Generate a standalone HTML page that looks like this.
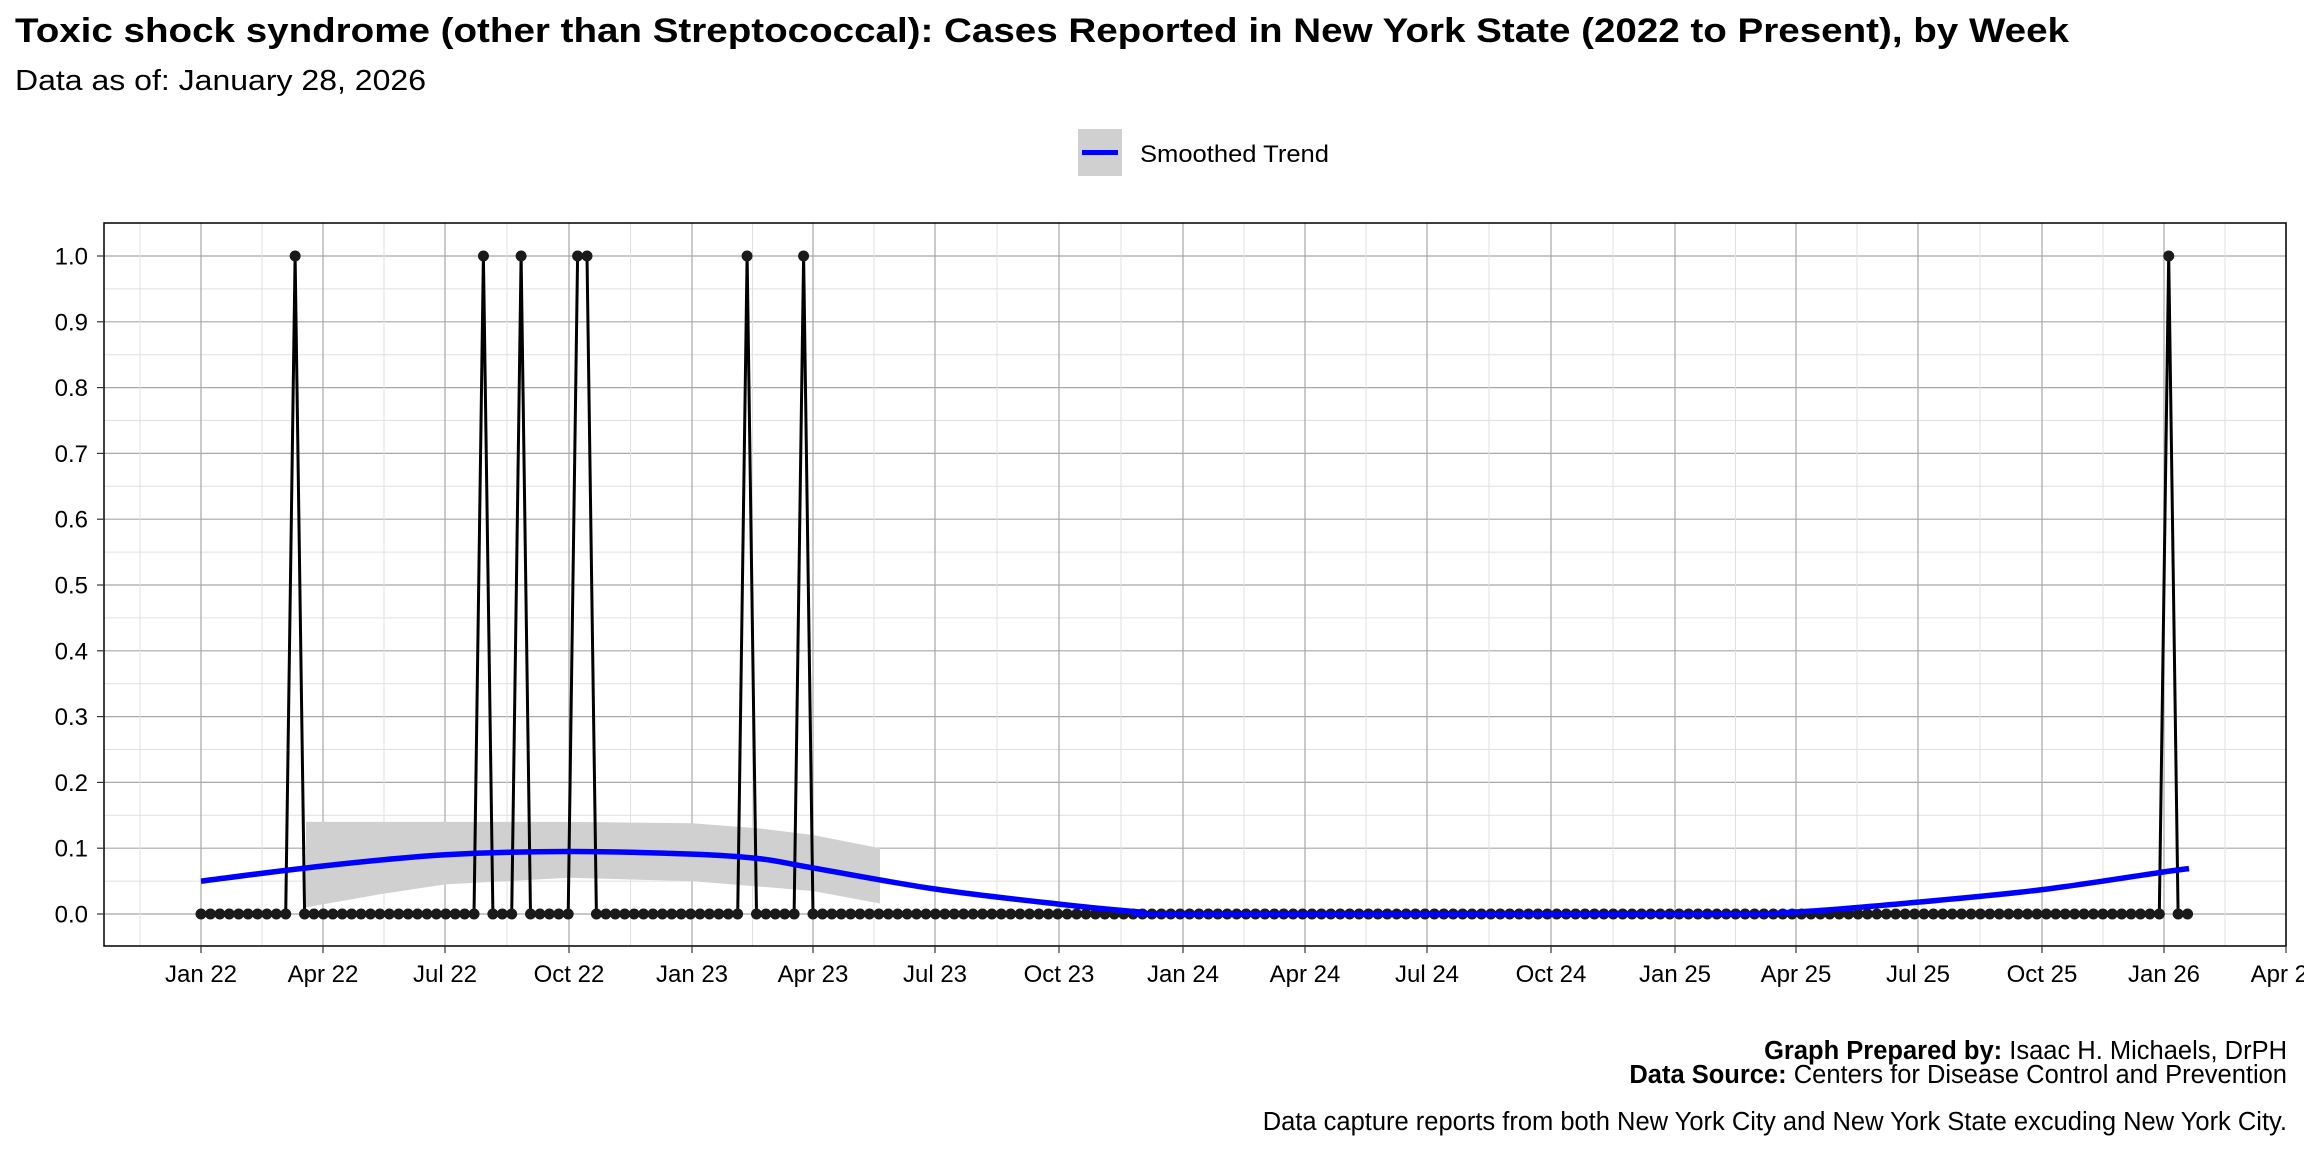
<!DOCTYPE html>
<html><head><meta charset="utf-8"><style>
html,body{margin:0;padding:0;background:#fff;}
svg{display:block;font-family:"Liberation Sans",Arial,sans-serif;}
</style></head><body>
<svg id="s" width="2304" height="1152" viewBox="0 0 2304 1152" xmlns="http://www.w3.org/2000/svg">
<rect width="2304" height="1152" fill="#fff"/>
<text x="15" y="42" font-size="34" font-weight="bold" textLength="2054" lengthAdjust="spacingAndGlyphs">Toxic shock syndrome (other than Streptococcal): Cases Reported in New York State (2022 to Present), by Week</text>
<text x="15" y="90" font-size="29" textLength="411" lengthAdjust="spacingAndGlyphs">Data as of: January 28, 2026</text>
<rect x="1078" y="129" width="44" height="47" fill="#d0d0d0"/>
<line x1="1082" y1="152.5" x2="1118" y2="152.5" stroke="#0000ff" stroke-width="5"/>
<text x="1140" y="162" font-size="24" textLength="189" lengthAdjust="spacingAndGlyphs">Smoothed Trend</text>
<g id="grid"></g>
<g id="data"></g>
<rect x="104" y="223" width="2182" height="723" fill="none" stroke="#000" stroke-width="1.5"/>
<g id="axes" font-size="24"></g>
<text x="2287" y="1059" font-size="25.5" text-anchor="end"><tspan font-weight="bold">Graph Prepared by:</tspan> Isaac H. Michaels, DrPH</text>
<text x="2287" y="1083" font-size="25.5" text-anchor="end"><tspan font-weight="bold">Data Source:</tspan> Centers for Disease Control and Prevention</text>
<text x="2287" y="1130" font-size="25.5" text-anchor="end">Data capture reports from both New York City and New York State excuding New York City.</text>
</svg>
<script>
(function(){
var NS="http://www.w3.org/2000/svg";
function el(p,t,a,txt){var e=document.createElementNS(NS,t);for(var k in a)e.setAttribute(k,a[k]);if(txt!=null)e.textContent=txt;p.appendChild(e);return e;}
var L=104,R=2286,T=223,B=946;
function Y(v){return 914-658*v;}
var g=document.getElementById('grid'),d=document.getElementById('data'),ax=document.getElementById('axes');
for(var i=-1;i<=21;i++){var v=i*0.05;var y=Y(v);if(y<T||y>B)continue;
 var major=(i%2===0);
 el(g,'line',{x1:L,x2:R,y1:y,y2:y,stroke:major?'#a8a8a8':'#e0e0e0','stroke-width':major?1.2:1});
 if(major){el(ax,'text',{x:88,y:y+8.5,'text-anchor':'end'},(v).toFixed(1));el(ax,'line',{x1:97,x2:104,y1:y,y2:y,stroke:'#333','stroke-width':1.2});}
}
var xs=[201,323,445,569,692,813,935,1059,1183,1305,1427,1551,1675,1796,1918,2042,2164,2286];
var labs=["Jan 22","Apr 22","Jul 22","Oct 22","Jan 23","Apr 23","Jul 23","Oct 23","Jan 24","Apr 24","Jul 24","Oct 24","Jan 25","Apr 25","Jul 25","Oct 25","Jan 26","Apr 26"];
var minors=[140];for(var i=0;i<xs.length-1;i++)minors.push((xs[i]+xs[i+1])/2);
minors.forEach(function(x){el(g,'line',{x1:x,x2:x,y1:T,y2:B,stroke:'#e0e0e0','stroke-width':1});});
xs.forEach(function(x,i){el(g,'line',{x1:x,x2:x,y1:T,y2:B,stroke:'#a8a8a8','stroke-width':1.2});
 el(ax,'line',{x1:x,x2:x,y1:B,y2:B+7,stroke:'#333','stroke-width':1.2});
 el(ax,'text',{x:x,y:982,'text-anchor':'middle'},labs[i]);});
var top=[[306,0.14],[445,0.14],[569,0.14],[692,0.138],[760,0.13],[813,0.12],[880,0.10]];
var bot=[[880,0.016],[813,0.035],[692,0.05],[569,0.055],[445,0.045],[380,0.03],[306,0.01]];
var pts=top.concat(bot).map(function(p){return p[0]+','+Y(p[1]);}).join(' ');
el(d,'polygon',{points:pts,fill:'#d0d0d0'});
var sm=[[201,0.05],[323,0.073],[445,0.09],[569,0.095],[692,0.091],[760,0.084],[813,0.07],[935,0.038],[1059,0.015],[1140,0.003],[1183,0.0],[1700,0.0],[1796,0.003],[1918,0.018],[2042,0.037],[2164,0.064],[2189,0.069]];
// catmull-rom
var pd='M'+sm[0][0]+','+Y(sm[0][1]);
for(var i=0;i<sm.length-1;i++){var p0=sm[Math.max(0,i-1)],p1=sm[i],p2=sm[i+1],p3=sm[Math.min(sm.length-1,i+2)];
 var c1x=p1[0]+(p2[0]-p0[0])/6,c1y=Y(p1[1])+(Y(p2[1])-Y(p0[1]))/6;
 var c2x=p2[0]-(p3[0]-p1[0])/6,c2y=Y(p2[1])-(Y(p3[1])-Y(p1[1]))/6;
 if(p1[1]===0&&p2[1]===0){c1y=Y(0);c2y=Y(0);}
 pd+=' C'+c1x+','+Math.min(c1y,Y(0))+' '+c2x+','+Math.min(c2y,Y(0))+' '+p2[0]+','+Y(p2[1]);}
var peaks={10:1,30:1,34:1,40:1,41:1,58:1,64:1,209:1};
var line='';var step=9.415;
for(var w=0;w<=211;w++){var x=201+w*step,v=peaks[w]||0;line+=(w?' L':'M')+x.toFixed(1)+','+Y(v);}
el(d,'path',{d:line,fill:'none',stroke:'#000','stroke-width':3,'stroke-linejoin':'round'});
for(var w=0;w<=211;w++){var x=201+w*step,v=peaks[w]||0;el(d,'circle',{cx:x,cy:Y(v),r:5.5,fill:'#1a1a1a'});}
el(d,'path',{d:pd,fill:'none',stroke:'#0000ff','stroke-width':5.5});
})();
</script>
</body></html>
